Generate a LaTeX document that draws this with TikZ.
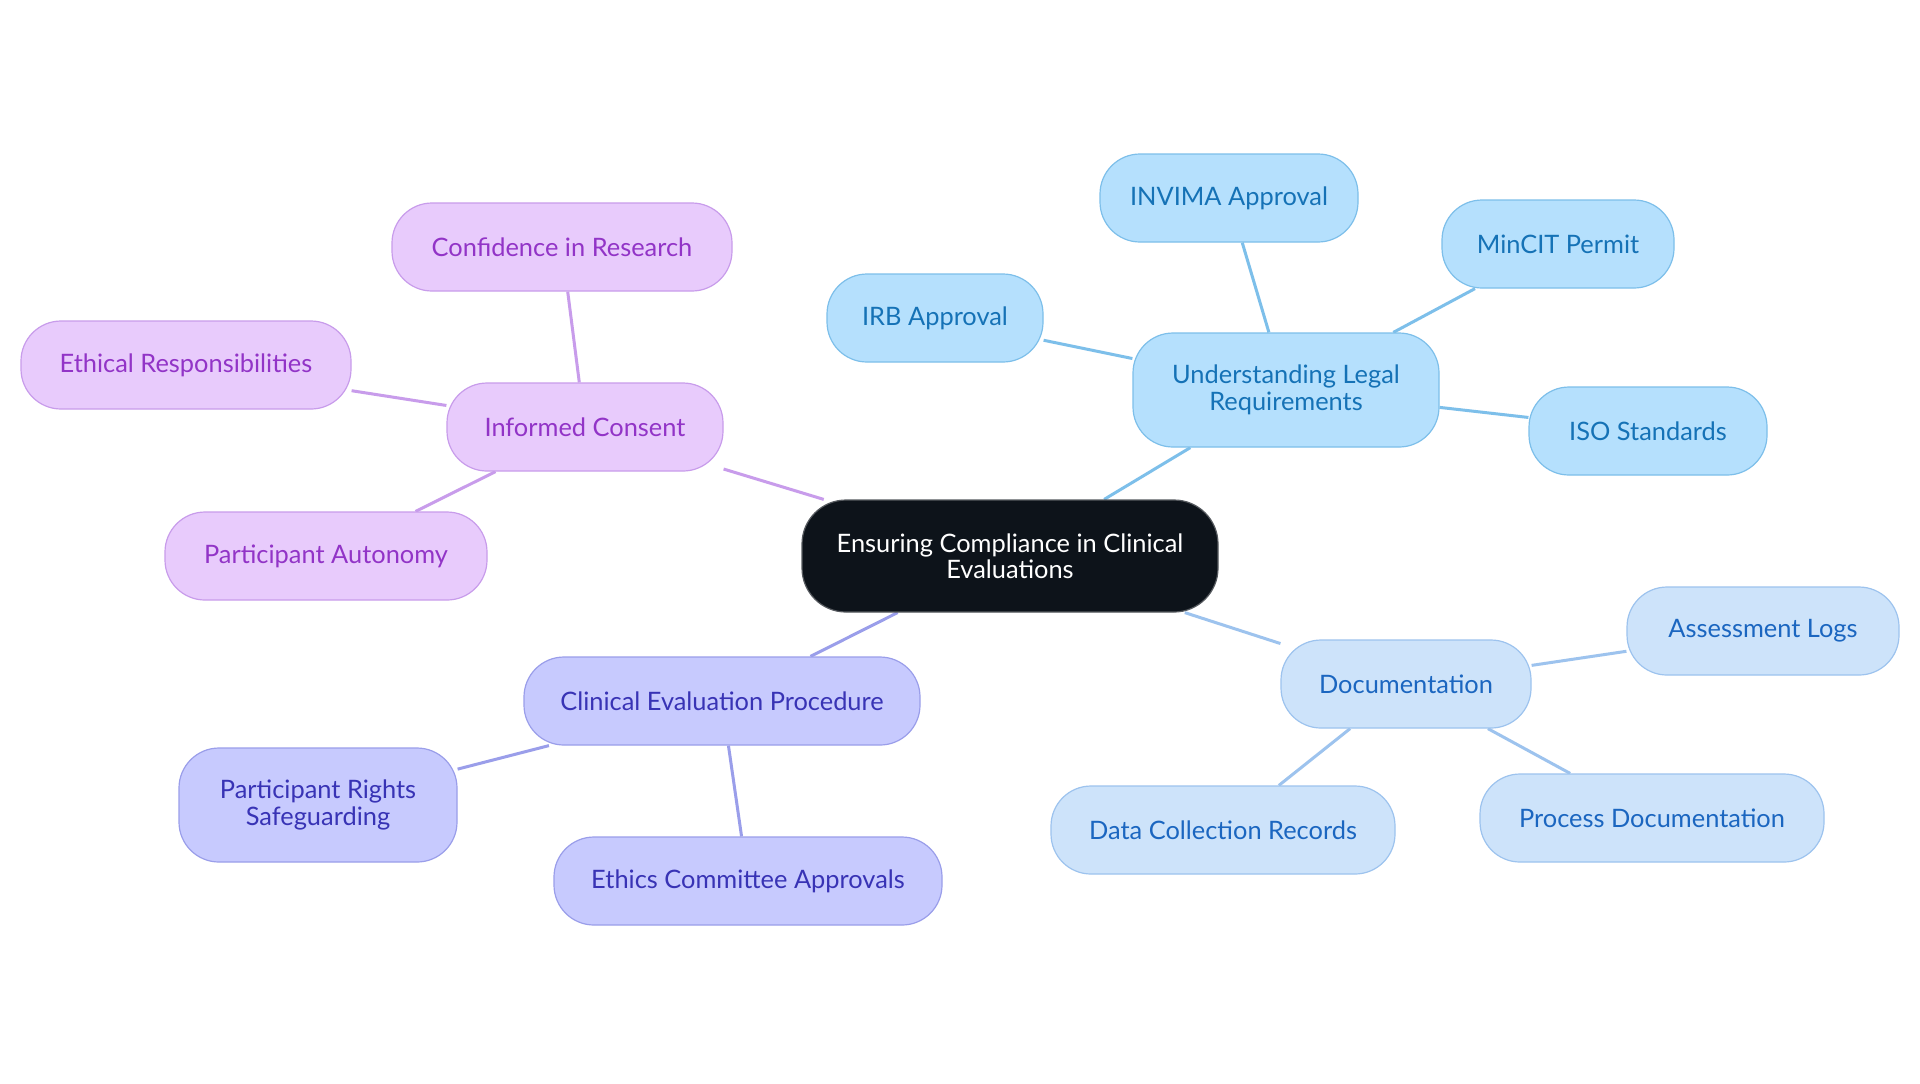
\documentclass[tikz,border=0pt]{standalone}
\usepackage{fontspec}
\setmainfont{Lato}
\usetikzlibrary{backgrounds}
\definecolor{cdark}{HTML}{0D131A}
\definecolor{bfill}{HTML}{B5E0FD}
\definecolor{bdraw}{HTML}{7DBFEA}
\definecolor{btext}{HTML}{1572B6}
\definecolor{lfill}{HTML}{CDE3FA}
\definecolor{ldraw}{HTML}{9DC3EE}
\definecolor{ltext}{HTML}{1B66C0}
\definecolor{pfill}{HTML}{E8CBFC}
\definecolor{pdraw}{HTML}{C89CEB}
\definecolor{ptext}{HTML}{9234C7}
\definecolor{ifill}{HTML}{C7CAFE}
\definecolor{idraw}{HTML}{9A9EEA}
\definecolor{itext}{HTML}{3833B5}
\tikzset{
  base/.style={rounded corners=20pt, line width=0.6pt, align=center, inner sep=0pt, font=\fontsize{12.7pt}{13.2pt}\selectfont, minimum height=44pt},
  rootnode/.style={base, fill=cdark, draw=cdark!70!white, text=white, minimum width=208pt, minimum height=56pt, rounded corners=22pt},
  bnode/.style={base, fill=bfill, draw=bdraw, text=btext},
  lnode/.style={base, fill=lfill, draw=ldraw, text=ltext},
  pnode/.style={base, fill=pfill, draw=pdraw, text=ptext},
  inode/.style={base, fill=ifill, draw=idraw, text=itext},
  bedge/.style={draw=bdraw, line width=1.5pt},
  ledge/.style={draw=ldraw, line width=1.5pt},
  pedge/.style={draw=pdraw, line width=1.5pt},
  iedge/.style={draw=idraw, line width=1.5pt},
}
\begin{document}
\begin{tikzpicture}[x=0.5pt,y=-0.5pt]
\useasboundingbox (0,0) rectangle (1920,1083);
\node[rootnode] (root) at (1010,556) {Ensuring Compliance in Clinical\\Evaluations};
\node[bnode, minimum width=153pt, minimum height=57pt] (legal) at (1286,390) {Understanding Legal\\Requirements};
\node[bnode, minimum width=108pt] (irb) at (935,318) {IRB Approval};
\node[bnode, minimum width=129pt] (invima) at (1229,198) {INVIMA Approval};
\node[bnode, minimum width=116pt] (mincit) at (1558,244) {MinCIT Permit};
\node[bnode, minimum width=119pt] (iso) at (1648,431) {ISO Standards};
\node[lnode, minimum width=125pt] (doc) at (1406,684) {Documentation};
\node[lnode, minimum width=136pt] (logs) at (1763,631) {Assessment Logs};
\node[lnode, minimum width=172pt] (data) at (1223,830) {Data Collection Records};
\node[lnode, minimum width=172pt] (proc) at (1652,818) {Process Documentation};
\node[pnode, minimum width=138pt] (consent) at (585,427) {Informed Consent};
\node[pnode, minimum width=170pt] (conf) at (562,247) {Confidence in Research};
\node[pnode, minimum width=165pt] (ethr) at (186,365) {Ethical Responsibilities};
\node[pnode, minimum width=161pt] (auto) at (326,556) {Participant Autonomy};
\node[inode, minimum width=198pt] (cep) at (722,701) {Clinical Evaluation Procedure};
\node[inode, minimum width=139pt, minimum height=57pt] (rights) at (318,805) {Participant Rights\\Safeguarding};
\node[inode, minimum width=194pt] (ethics) at (748,881) {Ethics Committee Approvals};
\begin{pgfonlayer}{background}
\fill[white] (0,0) rectangle (1920,1083);
\draw[bedge] (root) -- (legal);
\draw[bedge] (legal) -- (irb);
\draw[bedge] (legal) -- (invima);
\draw[bedge] (legal) -- (mincit);
\draw[bedge] (legal) -- (iso);
\draw[ledge] (root) -- (doc);
\draw[ledge] (doc) -- (logs);
\draw[ledge] (doc) -- (data);
\draw[ledge] (doc) -- (proc);
\draw[pedge] (root) -- (consent);
\draw[pedge] (consent) -- (conf);
\draw[pedge] (consent) -- (ethr);
\draw[pedge] (consent) -- (auto);
\draw[iedge] (root) -- (cep);
\draw[iedge] (cep) -- (rights);
\draw[iedge] (cep) -- (ethics);
\end{pgfonlayer}
\end{tikzpicture}
\end{document}
